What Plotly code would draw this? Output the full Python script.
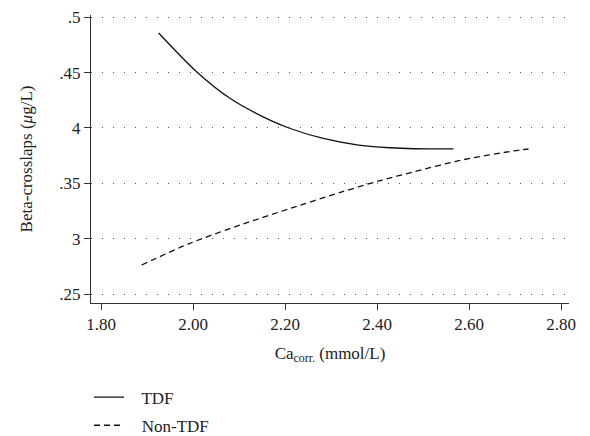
import plotly.graph_objects as go

# TDF curve
tdf_x = [1.925, 2.008, 2.080, 2.167, 2.211, 2.283, 2.356, 2.428, 2.479, 2.566]
tdf_y = [0.4858, 0.4506, 0.4268, 0.4070, 0.3995, 0.3905, 0.3848, 0.3821, 0.3812, 0.3811]

# Non-TDF curve
non_x = [1.888, 1.993, 2.102, 2.211, 2.320, 2.407, 2.479, 2.588, 2.696, 2.729]
non_y = [0.2762, 0.2958, 0.3123, 0.3273, 0.3418, 0.3525, 0.3603, 0.3714, 0.3792, 0.3810]

x_ticks = [1.8, 2.0, 2.2, 2.4, 2.6, 2.8]
x_tick_labels = ["1.80", "2.00", "2.20", "2.40", "2.60", "2.80"]
y_ticks = [0.25, 0.30, 0.35, 0.40, 0.45, 0.50]
y_tick_labels = [".25", "3", ".35", "4", ".45", ".5"]

font_family = "Liberation Serif"
ink = "#222222"

fig = go.Figure()
fig.add_trace(go.Scatter(x=tdf_x, y=tdf_y, mode="lines", name="   TDF", legendgroup="a",
                         line=dict(color="#111111", width=1.3, shape="spline", smoothing=0.8)))
fig.add_trace(go.Scatter(x=non_x, y=non_y, mode="lines", name="   Non-TDF", legendgroup="b",
                         line=dict(color="#111111", width=1.3, dash="6px,4px", shape="spline", smoothing=0.8)))

fig.update_layout(
    width=590, height=436,
    margin=dict(l=91, r=21, t=15, b=133, autoexpand=False),
    paper_bgcolor="white", plot_bgcolor="white",
    font=dict(family=font_family, size=17, color=ink),
    showlegend=True,
    legend=dict(x=-0.0042, y=-0.266, xanchor="left", yanchor="top",
                orientation="v", font=dict(size=17, color=ink),
                bgcolor="rgba(0,0,0,0)", traceorder="grouped", tracegroupgap=3),
    xaxis=dict(range=[1.778, 2.817], tickvals=x_ticks, ticktext=x_tick_labels,
               showline=True, linecolor="#333333", linewidth=1,
               ticks="outside", ticklen=6, tickcolor="#333333",
               showgrid=False, zeroline=False, automargin=False,
               title=dict(text="Ca<sub>corr.</sub> (mmol/L)", font=dict(size=17), standoff=13)),
    yaxis=dict(range=[0.2419, 0.502], tickvals=y_ticks, ticktext=y_tick_labels,
               showline=True, linecolor="#333333", linewidth=1,
               ticks="outside", ticklen=6, tickcolor="#333333",
               showgrid=True, gridcolor="#555555", griddash="1px,10px", gridwidth=1,
               zeroline=False, automargin=False,
               title=dict(text="Beta-crosslaps (<i>μ</i>g/L)", font=dict(size=17), standoff=22)),
)

fig.write_html("out.html", config={"displayModeBar": False},
               post_script="document.body.style.margin='0';")
